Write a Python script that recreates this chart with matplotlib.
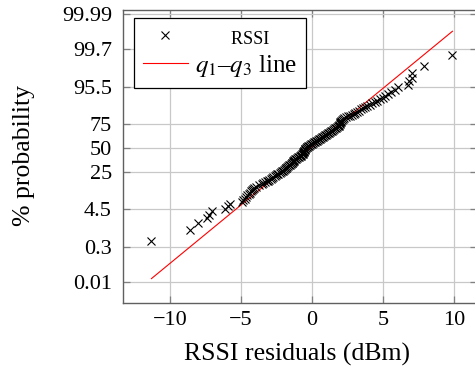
import numpy as np
import matplotlib
matplotlib.use("Agg")
import matplotlib.pyplot as plt
from statistics import NormalDist

# sorted RSSI residuals (dBm)
residuals = [
    -11.30, -8.56, -7.99, -7.37, -7.25, -7.07, -6.10, -5.90, -5.77, -4.95,
    -4.85, -4.75, -4.62, -4.55, -4.45, -4.38, -4.30, -4.22, -4.15, -4.05,
    -3.92, -3.70, -3.55, -3.42, -3.30, -3.20, -3.10, -3.00, -2.90, -2.80,
    -2.72, -2.63, -2.55, -2.46, -2.38, -2.28, -2.20, -2.12, -2.05, -1.98,
    -1.92, -1.86, -1.80, -1.74, -1.67, -1.60, -1.54, -1.49, -1.44, -1.40,
    -1.36, -1.33, -1.30, -1.26, -1.21, -1.15, -1.08, -1.00, -0.93, -0.86,
    -0.80, -0.75, -0.71, -0.67, -0.64, -0.61, -0.59, -0.57, -0.55, -0.53,
    -0.50, -0.47, -0.43, -0.38, -0.32, -0.26, -0.20, -0.14, -0.08, -0.02,
    0.05, 0.12, 0.20, 0.28, 0.35, 0.42, 0.48, 0.55, 0.62, 0.68,
    0.75, 0.82, 0.88, 0.95, 1.02, 1.10, 1.18, 1.25, 1.32, 1.38,
    1.45, 1.52, 1.60, 1.68, 1.76, 1.84, 1.90, 1.93, 1.96, 1.98,
    2.00, 2.02, 2.05, 2.10, 2.18, 2.28, 2.40, 2.52, 2.65, 2.78,
    2.92, 3.05, 3.18, 3.30, 3.45, 3.58, 3.74, 3.90, 4.05, 4.22,
    4.40, 4.60, 4.80, 4.98, 5.12, 5.34, 5.58, 5.82, 6.05, 6.76,
    6.83, 7.00, 7.04, 7.90, 9.88,
]

prob_ticks = [0.01, 0.3, 4.5, 25, 50, 75, 95.5, 99.7, 99.99]
prob_labels = ["0.01", "0.3", "4.5", "25", "50", "75", "95.5", "99.7", "99.99"]
x_ticks = [-10, -5, 0, 5, 10]
x_labels = ["−10", "−5", "0", "5", "10"]

_nd = NormalDist()
_ppf = np.vectorize(_nd.inv_cdf, otypes=[float])
_cdf = np.vectorize(_nd.cdf, otypes=[float])


def forward(p):
    p = np.clip(np.asarray(p, dtype=float) / 100.0, 1e-12, 1 - 1e-12)
    return _ppf(p)


def inverse(z):
    return _cdf(np.asarray(z, dtype=float)) * 100.0


# plotting positions (Filliben) in percent
x = np.array(residuals)
n = len(x)
ranks = np.arange(1, n + 1)
pp = (ranks - 0.3175) / (n + 0.365)
pp[0] = 1 - 0.5 ** (1.0 / n)
pp[-1] = 0.5 ** (1.0 / n)
pct = pp * 100

# q1-q3 line
q1, q3 = np.percentile(x, [25, 75])
z1, z3 = _nd.inv_cdf(0.25), _nd.inv_cdf(0.75)
slope = (z3 - z1) / (q3 - q1)
line_x = np.array([x.min(), x.max()])
line_pct = inverse(z1 + slope * (line_x - q1))

plt.rcParams['font.family'] = ['Liberation Serif', 'DejaVu Serif']
plt.rcParams['mathtext.fontset'] = 'stix'

fig = plt.figure(figsize=(4.75, 3.77), dpi=100)
ax = fig.add_axes([0.259, 0.196, 0.745, 0.7775])

ax.set_yscale('function', functions=(forward, inverse))
ax.plot(x, pct, 'x', color='black', markersize=5.5, markeredgewidth=0.8,
        label='        RSSI', zorder=3)
ax.plot(line_x, line_pct, '-', color='red', linewidth=0.8,
        label='$q_1$–$q_3$ line', zorder=2)

ax.set_xlim(-13.3, 11.6)
ax.set_ylim(float(inverse(-4.306)), float(inverse(3.833)))
ax.set_xticks(x_ticks)
ax.set_xticklabels(x_labels)
ax.set_yticks(prob_ticks)
ax.set_yticklabels(prob_labels)
ax.yaxis.set_minor_locator(matplotlib.ticker.NullLocator())

ax.grid(True, color='#c8c8c8', linewidth=0.9)
ax.set_axisbelow(True)
ax.tick_params(direction='in', length=5, width=0.9, color='#808080',
               labelsize=16, top=True, right=True, pad=6)
ax.tick_params(axis='y', pad=8)
for s in ax.spines.values():
    s.set_color('#606060')
    s.set_linewidth(1.0)

ax.set_xlabel('RSSI residuals (dBm)', fontsize=18.5)
ax.xaxis.set_label_coords(0.493, -0.135)
ax.set_ylabel('% probability', fontsize=18.5)
ax.yaxis.set_label_coords(-0.25, 0.505)

leg = ax.legend(loc='upper left', bbox_to_anchor=(0.031, 0.973),
                borderaxespad=0, fancybox=False, edgecolor='black',
                framealpha=1, handlelength=1.8, fontsize=18,
                borderpad=0.35, labelspacing=0.2, handletextpad=0.3)
leg.get_frame().set_linewidth(0.9)
leg.get_texts()[0].set_fontsize(13)

fig.savefig('out.png', dpi=100)
